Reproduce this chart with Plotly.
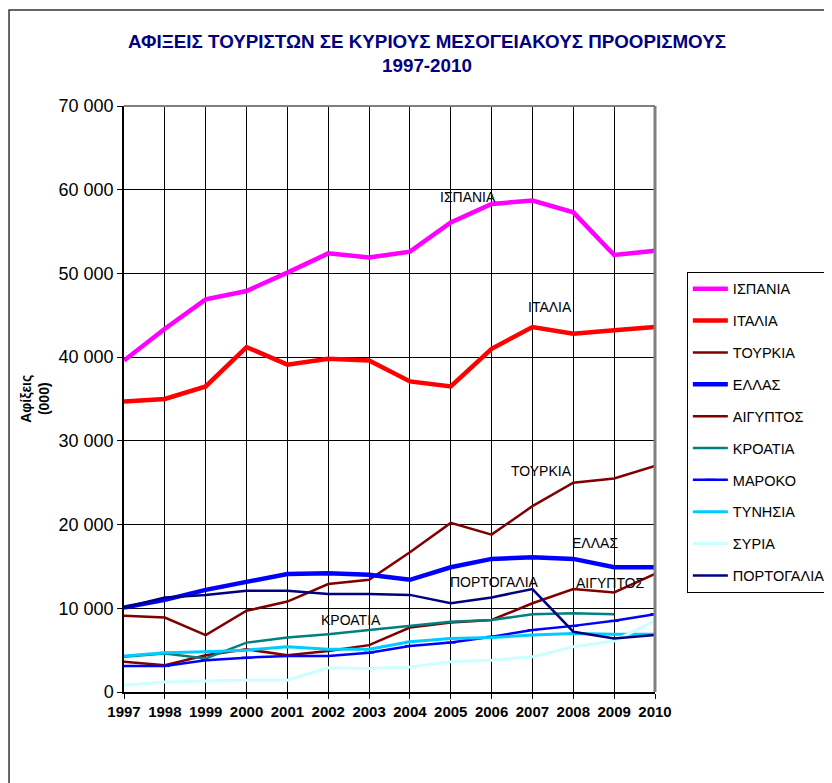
import plotly.graph_objects as go

years = list(range(1997, 2011))

spain = [39600, 43400, 46900, 47900, 50100, 52400, 51900, 52600, 56100, 58300, 58700, 57300, 52200, 52700]
italy = [34700, 35000, 36500, 41200, 39100, 39800, 39600, 37100, 36500, 41000, 43600, 42800, 43200, 43600]
turkey = [9100, 8900, 6800, 9700, 10800, 12900, 13400, 16700, 20200, 18800, 22200, 25000, 25500, 27000]
greece = [10100, 11000, 12200, 13100, 14100, 14200, 14000, 13400, 14900, 15900, 16100, 15900, 14900, 14900]
egypt = [3600, 3200, 4400, 5100, 4400, 4900, 5600, 7700, 8300, 8600, 10600, 12300, 11900, 14100]
croatia = [4200, 4600, 4000, 5900, 6500, 6900, 7400, 7900, 8400, 8600, 9300, 9400, 9300, None]
morocco = [3100, 3100, 3800, 4100, 4300, 4300, 4700, 5500, 5900, 6600, 7400, 7900, 8500, 9300]
tunisia = [4300, 4700, 4800, 5000, 5400, 5100, 5100, 6000, 6400, 6500, 6800, 7000, 6900, 6900]
syria = [800, 1200, 1300, 1400, 1400, 2900, 2800, 3000, 3600, 3800, 4200, 5400, 6100, 8500]
portugal = [10100, 11300, 11600, 12100, 12100, 11700, 11700, 11600, 10600, 11300, 12300, 7200, 6400, 6800]

series = [
    ("ΙΣΠΑΝΙΑ", spain, "#FF00FF", 4.5, False),
    ("ΙΤΑΛΙΑ", italy, "#FF0000", 4.5, False),
    ("ΤΟΥΡΚΙΑ", turkey, "#800000", 2.5, False),
    ("ΕΛΛΑΣ", greece, "#0000FF", 4.5, False),
    ("ΑΙΓΥΠΤΟΣ", egypt, "#800000", 2.5, False),
    ("ΚΡΟΑΤΙΑ", croatia, "#008080", 2.5, False),
    ("ΜΑΡΟΚΟ", morocco, "#0000FF", 2.5, True),
    ("ΤΥΝΗΣΙΑ", tunisia, "#00CCFF", 3, True),
    ("ΣΥΡΙΑ", syria, "#CCFFFF", 3, False),
    ("ΠΟΡΤΟΓΑΛΙΑ", portugal, "#000080", 2.5, False),
]

# in-chart labels: (text, year, value)
labels = [
    ("ΙΣΠΑΝΙΑ", 2005.42, 59100),
    ("ΙΤΑΛΙΑ", 2007.43, 46000),
    ("ΤΟΥΡΚΙΑ", 2007.21, 26400),
    ("ΕΛΛΑΣ", 2008.53, 17800),
    ("ΠΟΡΤΟΓΑΛΙΑ", 2006.06, 13100),
    ("ΑΙΓΥΠΤΟΣ", 2008.9, 13000),
    ("ΚΡΟΑΤΙΑ", 2002.56, 8600),
]

font = "Liberation Sans, Arial, sans-serif"

fig = go.Figure()
for i, (name, vals, color, width, dash_marker) in enumerate(series):
    fig.add_trace(go.Scatter(
        x=years, y=vals, name=name,
        mode='lines+markers' if dash_marker else 'lines',
        line=dict(color=color, width=width),
        marker=dict(symbol='line-ew', size=7, line=dict(color=color, width=2)),
        legendgroup=str(i),
    ))

for text, x, y in labels:
    fig.add_annotation(x=x, y=y, text=text, showarrow=False,
                       font=dict(family=font, size=14, color='black'))

fig.add_annotation(
    xref='paper', yref='paper', x=-0.168, y=0.5, xanchor='center', yanchor='middle',
    text="<b>Αφίξεις<br>(000)</b>", textangle=-90, showarrow=False,
    font=dict(family=font, size=14, color='black'))

# outer chart frame
fig.add_shape(type='rect', xref='paper', yref='paper',
              x0=-0.2165, x1=1.4, y0=-0.2, y1=1.1638,
              line=dict(color='#333333', width=1.5), layer='below')
# plot area right/top border
fig.add_shape(type='line', xref='paper', yref='paper', x0=1, x1=1, y0=0, y1=1,
              line=dict(color='#808080', width=3))
fig.add_shape(type='line', xref='paper', yref='paper', x0=0, x1=1, y0=1, y1=1,
              line=dict(color='#808080', width=2))

fig.update_layout(
    width=824, height=775,
    paper_bgcolor='white', plot_bgcolor='white',
    margin=dict(l=116, r=177, t=98, b=91, autoexpand=False),
    separators=', ',
    font=dict(family=font, color='black'),
    title=dict(
        text="<b>ΑΦΙΞΕΙΣ ΤΟΥΡΙΣΤΩΝ ΣΕ ΚΥΡΙΟΥΣ ΜΕΣΟΓΕΙΑΚΟΥΣ ΠΡΟΟΡΙΣΜΟΥΣ<br>1997-2010</b>",
        x=(427 - 8) / 824, xanchor='center', y=1 - 40 / 775, yanchor='middle',
        font=dict(family=font, size=18.8, color='#000080'),
    ),
    xaxis=dict(
        range=[1997, 2010], tickmode='array', tickvals=years,
        ticks='outside', ticklen=5, tickcolor='black',
        showgrid=True, gridcolor='black', gridwidth=1,
        showline=True, linecolor='black', linewidth=1.5,
        tickfont=dict(family=font, size=15, color='black', weight='bold'),
        zeroline=False,
    ),
    yaxis=dict(
        range=[0, 70000], dtick=10000, tickformat=',d',
        ticks='outside', ticklen=5, tickcolor='black',
        showgrid=True, gridcolor='black', gridwidth=1,
        showline=True, linecolor='black', linewidth=1.5,
        tickfont=dict(family=font, size=18, color='black'),
        zeroline=False,
    ),
    legend=dict(
        x=1.06, xanchor='left', y=0.717, yanchor='top',
        bordercolor='black', borderwidth=1,
        font=dict(family=font, size=14.5, color='black'),
        traceorder='grouped', tracegroupgap=10,
        itemwidth=35,
    ),
    showlegend=True,
)

fig.write_html("out.html")
